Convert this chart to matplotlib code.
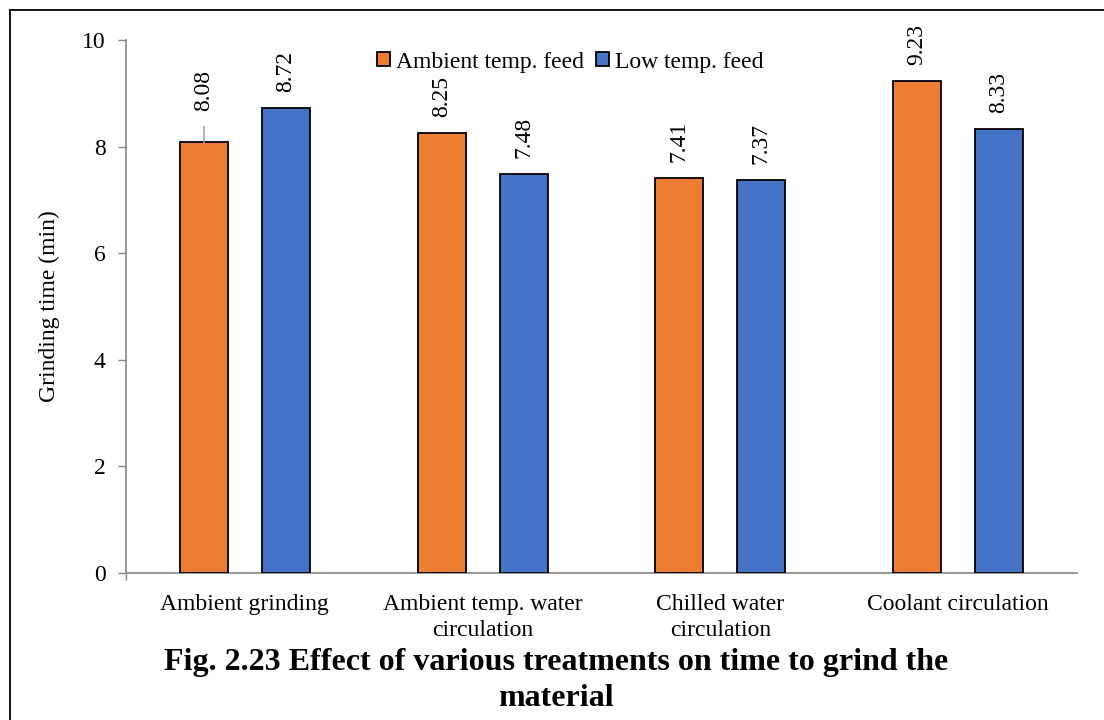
import matplotlib
matplotlib.use("Agg")
import matplotlib.pyplot as plt
import numpy as np
from matplotlib.patches import Patch
from matplotlib.lines import Line2D

plt.rcParams['font.family'] = ['Liberation Serif', 'DejaVu Serif']

categories = ["Ambient grinding", "Ambient temp. water\ncirculation",
              "Chilled water\ncirculation", "Coolant circulation"]
ambient_feed = [8.08, 8.25, 7.41, 9.23]
low_temp_feed = [8.72, 7.48, 7.37, 8.33]
series_names = ["Ambient temp. feed", "Low temp. feed"]
colors = ["#ED7D31", "#4472C4"]
y_ticks = [0, 2, 4, 6, 8, 10]

fig = plt.figure(figsize=(11.04, 7.2), dpi=100)
ax = fig.add_axes([126 / 1104, 1 - 573 / 720, (1077 - 126) / 1104, (573 - 40) / 720])

x = np.arange(len(categories))
width = 0.202
offset = 0.172
fs = 17
gray = "#868686"

bars_a = ax.bar(x - offset, ambient_feed, width, color=colors[0],
                edgecolor="black", linewidth=1.3, zorder=3)
bars_b = ax.bar(x + offset, low_temp_feed, width, color=colors[1],
                edgecolor="black", linewidth=1.3, zorder=3)

# rotated value labels above each bar
for bars, vals in ((bars_a, ambient_feed), (bars_b, low_temp_feed)):
    for i, (b, v) in enumerate(zip(bars, vals)):
        cx = b.get_x() + b.get_width() / 2
        gap = 11.5
        if bars is bars_a and i == 0:
            gap = 22.5
            # leader line from the bar top towards the displaced label
            ax.annotate("", xy=(cx, v), xytext=(0, 11.5), textcoords="offset points",
                        arrowprops=dict(arrowstyle="-", color="#A6A6A6", lw=1.2,
                                        shrinkA=0, shrinkB=0))
        ax.annotate(f"{v:.2f}", xy=(cx, v), xytext=(0, gap), textcoords="offset points",
                    rotation=90, ha="center", va="bottom", fontsize=fs)

ax.set_xlim(-0.5, len(categories) - 0.5)
ax.set_ylim(0, 10)
ax.set_yticks(y_ticks)
ax.set_yticklabels([str(t) for t in y_ticks], fontsize=fs)
ax.set_xticks(x)
ax.set_xticklabels(categories, fontsize=fs, linespacing=1.3)
ax.tick_params(axis="x", length=0, pad=15)
ax.tick_params(axis="y", length=6, width=1, color=gray, direction="out", pad=8.5)
ax.set_xticks([-0.5], minor=True)
ax.tick_params(axis="x", which="minor", length=5, width=1, color=gray, direction="out")

for side in ("top", "right"):
    ax.spines[side].set_visible(False)
for side in ("left", "bottom"):
    ax.spines[side].set_color(gray)
    ax.spines[side].set_linewidth(1.2)

ax.set_ylabel("Grinding time (min)", fontsize=fs, labelpad=16)

handles = [Patch(facecolor=c, edgecolor="black", linewidth=1.3) for c in colors]
ax.legend(handles, series_names, loc="upper center", bbox_to_anchor=(0.467, 0.996),
          ncol=2, frameon=False, fontsize=fs, handlelength=0.55, handleheight=0.55,
          handletextpad=0.25, columnspacing=0.5, borderaxespad=0)

fig.text(556 / 1104, 1 - 648 / 720,
         "Fig. 2.23 Effect of various treatments on time to grind the\nmaterial",
         ha="center", va="top", fontsize=23, fontweight="bold", linespacing=1.3)

# page frame lines on the left and top
fig.add_artist(Line2D([10 / 1104, 10 / 1104], [0, 1 - 10 / 720], color="black",
                      lw=1.3, transform=fig.transFigure))
fig.add_artist(Line2D([10 / 1104, 1], [1 - 10 / 720, 1 - 10 / 720], color="black",
                      lw=1.3, transform=fig.transFigure))

fig.savefig("out.png", dpi=100)
